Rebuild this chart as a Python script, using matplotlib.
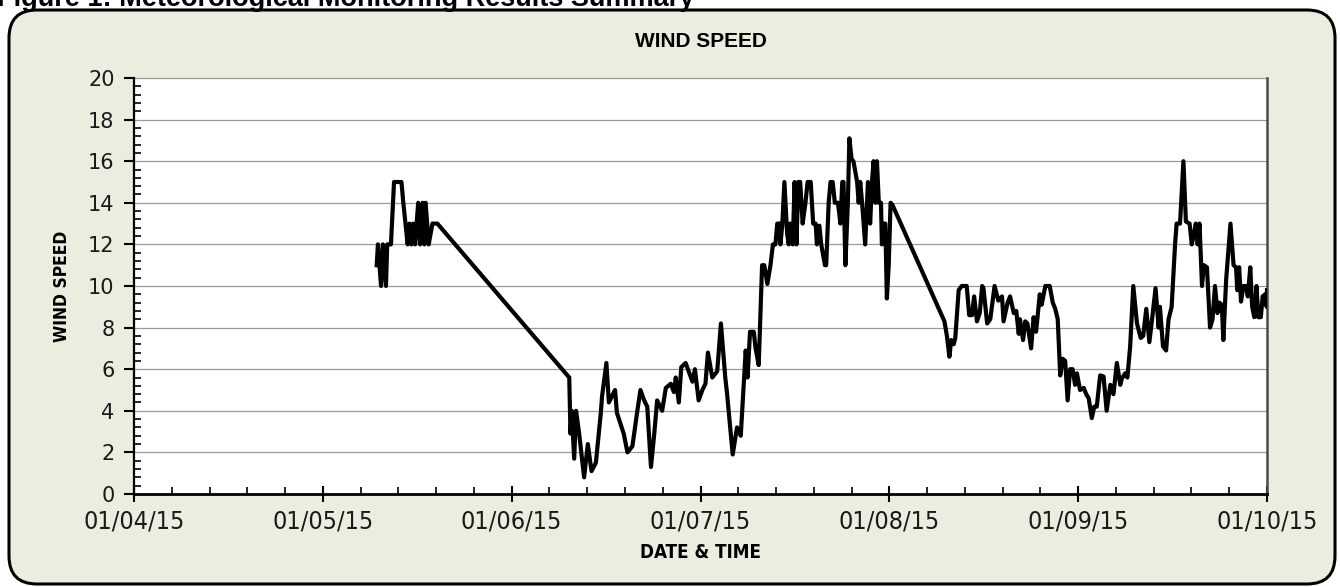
import numpy as np
import matplotlib
matplotlib.use("Agg")
import matplotlib.pyplot as plt
from matplotlib import font_manager as fm
from matplotlib.patches import FancyBboxPatch
from matplotlib.transforms import IdentityTransform
from matplotlib.ticker import MultipleLocator, FixedLocator

# ---------------- data (x = days since 01/04/15, y = wind speed) -------------
tick_labels = ["01/04/15", "01/05/15", "01/06/15", "01/07/15",
               "01/08/15", "01/09/15", "01/10/15"]

may_days = [39.2, 39.4, 39.9, 40.2, 40.7, 40.9, 41.5, 42.0, 43.2, 43.5, 44.2,
            44.5, 44.8, 45.1, 45.4, 45.9, 46.2, 46.6, 46.9, 47.1, 47.6, 48.2,
            49.0]
may_speed = [11.0, 12.0, 10.0, 12.0, 10.0, 12.0, 12.0, 15.0, 15.0, 14.0, 12.0,
             13.0, 12.0, 13.0, 12.0, 14.0, 12.0, 14.0, 12.0, 14.0, 12.0, 13.0,
             13.0]

junjul_days = [70.0, 70.3, 70.5, 70.7, 71.1, 71.4, 71.9, 72.7, 73.3, 73.9, 74.6,
               75.4, 75.6, 76.3, 76.7, 77.7, 78.0, 79.1, 79.7, 80.5, 81.3, 81.8,
               82.4, 82.9, 83.5, 84.0, 84.5, 85.3, 85.9, 86.7, 87.2, 87.5, 88.0,
               88.4, 89.1, 90.2, 90.6, 91.2, 91.8, 92.3, 92.7, 93.4, 94.2, 94.8,
               95.5, 95.8, 96.7, 97.4, 98.0, 98.8, 99.1, 99.5, 100.1, 100.4,
               100.9, 101.45, 101.8, 102.3, 102.8, 103.2, 103.6, 103.9, 104.3,
               104.4, 104.7, 105.05, 105.5, 105.75, 106.0, 106.4, 106.7, 107.0,
               107.3, 107.6, 108.0, 108.45, 108.8, 109.3, 109.7, 110.1, 110.3,
               110.7, 111.0, 111.6, 111.8, 112.2, 112.5, 112.85, 113.2, 113.7,
               114.1, 114.4, 114.6, 114.9, 115.3, 115.55, 115.9, 116.2, 116.8,
               117.05, 117.3, 117.6, 118.1, 118.55, 118.9, 119.2, 119.45,
               119.75, 120.0, 120.3, 120.65, 120.8, 121.1, 121.35, 121.6, 121.9,
               122.2, 122.5]
junjul_speed = [5.7, 5.6, 2.9, 4.0, 1.7, 4.0, 2.9, 0.8, 2.4, 1.1, 1.5,
                3.9, 4.7, 6.3, 4.4, 5.0, 3.9, 2.9, 2.0, 2.3, 4.0, 5.0,
                4.5, 4.2, 1.3, 2.8, 4.5, 4.0, 5.1, 5.3, 4.9, 5.6, 4.4,
                6.1, 6.3, 5.4, 6.0, 4.5, 5.0, 5.3, 6.8, 5.6, 5.9, 8.2,
                5.6, 4.8, 1.9, 3.2, 2.8, 6.9, 5.6, 7.8, 7.8, 7.0,
                6.2, 11.0, 11.0, 10.1, 11.0, 12.0, 12.0, 13.0, 13.0,
                12.0, 12.9, 15.0, 12.5, 12.0, 13.0, 12.0, 15.0, 12.0,
                15.0, 15.0, 13.0, 14.0, 15.0, 15.0, 13.0, 13.0, 12.0,
                12.9, 12.0, 11.0, 11.0, 14.0, 15.0, 15.0, 14.0, 14.0,
                13.0, 15.0, 15.0, 11.0, 14.0, 17.1, 16.1, 16.0, 15.0,
                14.0, 15.0, 14.0, 12.0, 15.0, 13.0, 15.0, 16.0,
                14.0, 16.0, 14.0, 14.0, 12.0, 13.0, 13.0, 9.4, 11.0,
                14.0, 13.9]

augsep_days = [130.9, 131.3, 131.7, 132.0, 132.4, 132.65, 133.2, 133.7, 134.5,
               134.9, 135.35, 135.7, 136.15, 136.6, 137.0, 137.2, 137.8, 138.3,
               139.0, 139.6, 140.2, 140.45, 141.1, 141.5, 142.1, 142.5, 142.9,
               143.1, 143.6, 143.95, 144.3, 144.9, 145.3, 145.7, 146.3, 146.6,
               147.2, 147.9, 148.4, 148.8, 149.2, 149.5, 149.6, 150.0, 150.4,
               150.8, 151.2, 151.6, 152.0, 152.3, 152.8, 153.4, 153.8, 154.2,
               154.7, 155.1, 155.5, 156.05, 156.6, 157.1, 157.7, 158.2, 158.75,
               159.3, 159.55, 160.1, 160.45, 160.9, 161.4, 162.0, 162.6, 163.0,
               163.5, 164.0, 164.55, 165.0, 165.5, 165.7, 166.2, 166.7, 167.1,
               167.6, 168.15, 168.4, 168.95, 169.5, 169.9, 170.5, 170.85, 171.2,
               171.5, 171.8, 172.1, 172.5, 172.8, 173.3, 173.8, 174.2, 174.6,
               175.0, 175.3, 175.7, 175.95, 176.4, 177.1, 177.6, 178.0, 178.2,
               178.5, 178.8, 179.2, 179.6, 179.9, 180.3, 180.6, 180.95, 181.3,
               181.6, 182.0, 182.3, 182.7, 182.95, 183.0]
augsep_speed = [8.3, 7.6, 6.6, 7.4, 7.2, 7.5, 9.8, 10.0, 10.0,
                8.6, 8.6, 9.5, 8.3, 8.7, 10.0, 9.9, 8.2, 8.4,
                10.0, 9.3, 9.5, 8.3, 9.2, 9.5, 8.7, 8.8, 7.7,
                8.4, 7.4, 8.3, 8.2, 7.0, 8.5, 7.8, 9.6, 9.1,
                10.0, 10.0, 9.2, 8.9, 8.4, 6.4, 5.7, 6.5, 6.4,
                4.5, 6.0, 6.0, 5.25, 5.8, 5.0, 5.1, 4.8, 4.6,
                3.65, 4.2, 4.2, 5.7, 5.65, 4.0, 5.25, 4.8, 6.3,
                5.25, 5.55, 5.8, 5.6, 7.1, 10.0, 8.2, 7.5, 7.6,
                8.9, 7.3, 8.7, 9.9, 8.0, 9.0, 7.1, 6.9, 8.4,
                9.0, 12.0, 13.0, 13.0, 16.0, 13.1, 13.0, 12.0, 12.5,
                13.0, 12.0, 13.0, 10.0, 11.0, 10.9, 8.0, 8.4, 10.0,
                8.7, 9.2, 9.1, 7.4, 10.3, 13.0, 11.0, 10.9, 9.8,
                10.9, 9.25, 10.0, 10.0, 9.5, 10.9, 9.0, 8.5, 10.0,
                8.5, 8.5, 9.5, 9.6, 9.0, 9.8]

days = np.array(may_days + junjul_days + augsep_days)
speed = np.array(may_speed + junjul_speed + augsep_speed)

# ---------------- fonts -------------------------------------------------------
names = {f.name for f in fm.fontManager.ttflist}
SANS = "Liberation Sans" if "Liberation Sans" in names else "DejaVu Sans"
COND = dict(family=["DejaVu Sans"], fontstretch="condensed")

# ---------------- figure ------------------------------------------------------
W, H = 1340, 587
fig = plt.figure(figsize=(W / 100, H / 100), dpi=100)
fig.patch.set_facecolor("white")

panel = FancyBboxPatch((9, 3), 1326, 574,
                       boxstyle="round,pad=0,rounding_size=28",
                       transform=IdentityTransform(),
                       facecolor="#EBEEDF", edgecolor="black", linewidth=2.2,
                       zorder=-5)
fig.add_artist(panel)

fig.text(-3 / W, 1 - 6 / H, "Figure 1: Meteorological Monitoring Results Summary",
         ha="left", va="baseline", fontsize=19.5, fontweight="bold",
         family=[SANS, "DejaVu Sans"])

left, right, top, bottom = 134, 1267, 78, 494
ax = fig.add_axes([left / W, 1 - bottom / H, (right - left) / W, (bottom - top) / H])
ax.set_facecolor("white")

ax.plot(days, speed, color="black", linewidth=3.0, solid_joinstyle="round",
        zorder=3)

ax.set_xlim(0, 183)
ax.set_ylim(0, 20)

# grid
for yv in np.arange(2, 21, 2):
    ax.axhline(yv, color="#9a9a9a", linewidth=0.9, zorder=1, clip_on=False)

# spines
ax.spines["top"].set_visible(False)
ax.spines["left"].set_linewidth(1.6)
ax.spines["bottom"].set_linewidth(2.0)
ax.spines["right"].set_color("#4a4a4a")
ax.spines["right"].set_linewidth(1.8)

# ticks
ax.xaxis.set_major_locator(FixedLocator(np.arange(0, 183.1, 30.5)))
ax.set_xticklabels(tick_labels)
ax.xaxis.set_minor_locator(MultipleLocator(6.1))
ax.yaxis.set_major_locator(MultipleLocator(2))
ax.yaxis.set_minor_locator(MultipleLocator(0.4))

ax.tick_params(axis="x", which="major", direction="inout", length=12, width=1.5,
               pad=5, labelsize=18, colors="black")
ax.tick_params(axis="x", which="minor", direction="in", length=5, width=1.2)
ax.tick_params(axis="y", which="major", direction="out", length=7, width=1.5,
               pad=7, labelsize=15)
ax.tick_params(axis="y", which="minor", direction="in", length=5, width=1.2)
ax.tick_params(right=False, top=False, which="both")

for lab in ax.get_xticklabels():
    lab.set_family(COND["family"])
    lab.set_fontstretch("condensed")
    lab.set_color("#1a1a1a")
for lab in ax.get_yticklabels():
    lab.set_family(["DejaVu Sans"])
    lab.set_color("#1a1a1a")

ax.set_title("WIND SPEED", fontsize=15, fontweight="bold", pad=22,
             family=[SANS, "DejaVu Sans"])
ax.set_xlabel("DATE & TIME", fontsize=13.5, fontweight="bold", labelpad=7,
              **COND)
ax.set_ylabel("WIND SPEED", fontsize=12.5, fontweight="bold", labelpad=12,
              **COND)

fig.savefig("out.png", dpi=100)
